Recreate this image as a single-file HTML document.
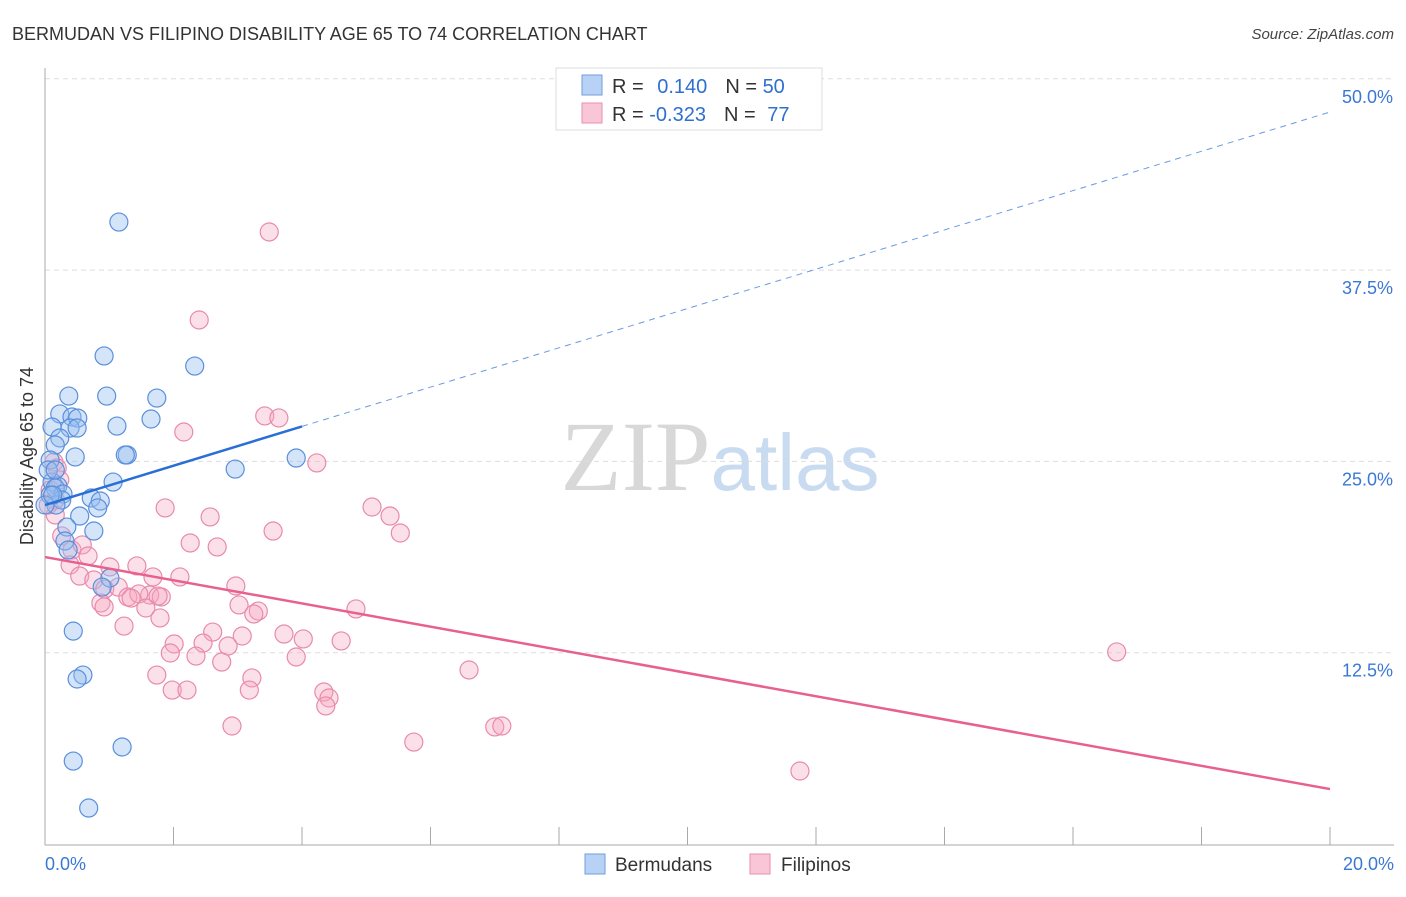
<!DOCTYPE html>
<html><head><meta charset="utf-8"><style>
body{margin:0;background:#fff;font-family:"Liberation Sans",sans-serif}
svg text{font-family:"Liberation Sans",sans-serif}
</style></head><body>
<svg id="chart" width="1406" height="892" xmlns="http://www.w3.org/2000/svg">
<text x="12" y="40" font-size="18" fill="#333">BERMUDAN VS FILIPINO DISABILITY AGE 65 TO 74 CORRELATION CHART</text>
<text x="1394" y="39" font-size="15" fill="#444" font-style="italic" text-anchor="end">Source: ZipAtlas.com</text>
<text x="720" y="490" font-size="100" text-anchor="middle" fill="#ddd"><tspan font-family="Liberation Serif" fill="#d8d8d8">ZIP</tspan><tspan font-size="80" fill="#c8dbf0">atlas</tspan></text>
<text transform="translate(33,456) rotate(-90)" font-size="18" fill="#333" text-anchor="middle">Disability Age 65 to 74</text>
<g id="grid"></g><g id="axes"></g><g id="pts"></g><g id="lines"></g>
<g>
<rect x="556" y="68" width="266" height="62" fill="#fff" stroke="#ddd"/>
<rect x="582" y="75" width="20" height="20" fill="#b7d2f5" stroke="#6f9de0"/>
<rect x="582" y="103" width="20" height="20" fill="#f8c6d6" stroke="#ea8fae"/>
<text x="612" y="93" font-size="20" fill="#333">R = <tspan fill="#2f6fd0" dx="8">0.140</tspan><tspan dx="18" fill="#333">N = </tspan><tspan fill="#2f6fd0">50</tspan></text>
<text x="612" y="121" font-size="20" fill="#333">R = <tspan fill="#2f6fd0">-0.323</tspan><tspan dx="18" fill="#333">N = </tspan><tspan fill="#2f6fd0" dx="6">77</tspan></text>
</g>
<g>
<rect x="585" y="854" width="20" height="20" fill="#b7d2f5" stroke="#6f9de0"/>
<text x="615" y="871" font-size="19" fill="#333">Bermudans</text>
<rect x="750" y="854" width="20" height="20" fill="#f8c6d6" stroke="#ea8fae"/>
<text x="781" y="871" font-size="19" fill="#333">Filipinos</text>
</g>
</svg>
<script>
const yTicks=[12.5,25,37.5,50];
const yTickLabels=["12.5%","25.0%","37.5%","50.0%"];
const xTickLabels=["0.0%","20.0%"];
const bermX=[1.15,0.92,2.33,0.37,0.96,1.74,0.23,0.42,0.51,1.65,1.12,0.11,0.39,0.50,0.23,0.16,0.47,1.28,1.25,2.96,3.91,1.06,0.11,0.20,0.16,0.28,0.72,0.86,0.82,0.26,0.17,0.54,0.34,0.76,0.31,0.36,1.01,0.89,0.44,0.59,0.50,1.20,0.44,0.68,0.08,0.08,0.05,0.00,0.16,0.12];
const bermY=[40.64,31.89,31.23,29.27,29.27,29.14,28.10,27.90,27.83,27.77,27.31,27.25,27.18,27.18,26.53,26.07,25.29,25.42,25.42,24.50,25.22,23.65,23.65,23.39,23.26,22.87,22.61,22.41,21.96,22.48,22.15,21.43,20.71,20.45,19.80,19.21,17.38,16.79,13.91,11.04,10.78,6.34,5.42,2.35,25.09,22.80,24.44,22.15,24.44,22.80];
const filX=[3.49,2.40,3.42,3.64,2.16,4.23,0.14,0.19,0.16,1.87,5.09,5.37,2.57,5.53,3.55,0.16,0.26,2.26,2.68,0.42,0.58,0.67,0.39,1.01,1.43,0.54,0.76,1.68,2.10,2.97,0.93,1.14,1.63,1.29,1.46,1.34,1.81,1.76,0.87,0.92,1.57,3.02,3.32,3.25,1.79,4.84,1.23,2.61,3.07,3.72,4.02,4.61,2.01,2.46,2.85,1.95,2.35,2.75,3.91,3.22,1.74,6.60,4.34,4.42,4.37,1.98,2.21,3.18,2.91,7.00,7.11,5.74,11.75,16.68,0.08,0.05,0.23];
const filY=[39.99,34.24,27.97,27.84,26.92,24.90,24.96,24.57,22.48,21.96,22.02,21.43,21.37,20.32,20.45,21.50,20.13,19.67,19.41,19.21,19.54,18.82,18.23,18.10,18.17,17.51,17.25,17.45,17.45,16.86,16.66,16.79,16.27,16.14,16.34,16.07,16.14,16.20,15.75,15.49,15.42,15.62,15.22,15.03,14.77,15.36,14.24,13.85,13.59,13.72,13.40,13.27,13.07,13.13,12.94,12.48,12.28,11.89,12.22,10.85,11.04,11.37,9.93,9.54,9.02,10.06,10.06,10.06,7.71,7.65,7.71,6.66,4.77,12.55,23.13,22.15,23.79];
const bermTrend=[22.15,47.83];
const filTrend=[18.75,3.59];
const X0=45,X1=1330,Y0=844,YS=191.3/12.5;
const sx=v=>X0+v/20*(X1-X0), sy=v=>Y0-v*YS;
const NS="http://www.w3.org/2000/svg";
function mk(t,a,p){const e=document.createElementNS(NS,t);for(const k in a)e.setAttribute(k,a[k]);p.appendChild(e);return e;}
const grid=document.getElementById('grid'),axes=document.getElementById('axes'),pts=document.getElementById('pts'),lines=document.getElementById('lines');
yTicks.forEach((t,i)=>{
 const l=mk('line',{x1:X0,x2:1394,y1:sy(t),y2:sy(t),stroke:'#ddd','stroke-dasharray':'5,4'},grid);
 
 
 const tx=mk('text',{x:1393,y:sy(t)+24,'font-size':18,fill:'#3a78d4','text-anchor':'end'},grid);
 tx.textContent=yTickLabels[i];
 
 
});
let a=mk('line',{x1:X0,x2:X0,y1:68,y2:845,stroke:'#aaa'},axes);


a=mk('line',{x1:X0,x2:1394,y1:845,y2:845,stroke:'#aaa'},axes);


for(let i=0;i<=10;i++){const x=sx(i*2);const t=mk('line',{x1:x,x2:x,y1:827,y2:845,stroke:'#aaa'},axes);
 
 }
[[0,'start',X0],[1,'end',1394]].forEach(([i,anc,x])=>{const t=mk('text',{x:x,y:870,'font-size':18,fill:'#3a78d4','text-anchor':anc},axes);t.textContent=xTickLabels[i];
 
 });
filX.forEach((v,i)=>{const c=mk('circle',{cx:sx(v),cy:sy(filY[i]),r:9,fill:'rgba(245,165,192,0.35)',stroke:'#e88aab','stroke-width':1.2},pts);
 
 });
bermX.forEach((v,i)=>{const c=mk('circle',{cx:sx(v),cy:sy(bermY[i]),r:9,fill:'rgba(150,190,240,0.4)',stroke:'#5a8fdb','stroke-width':1.2},pts);
 
 });
const bAt=x=>bermTrend[0]+(bermTrend[1]-bermTrend[0])*x/20;
let L=mk('line',{x1:sx(0),y1:sy(bAt(0)),x2:sx(4),y2:sy(bAt(4)),stroke:'#2a6fd6','stroke-width':2.5},lines);


L=mk('line',{x1:sx(4),y1:sy(bAt(4)),x2:sx(20),y2:sy(bAt(20)),stroke:'#6a9be0','stroke-width':1,'stroke-dasharray':'6,5'},lines);


L=mk('line',{x1:sx(0),y1:sy(filTrend[0]),x2:sx(20),y2:sy(filTrend[1]),stroke:'#e8608e','stroke-width':2.5},lines);


</script>
</body></html>
